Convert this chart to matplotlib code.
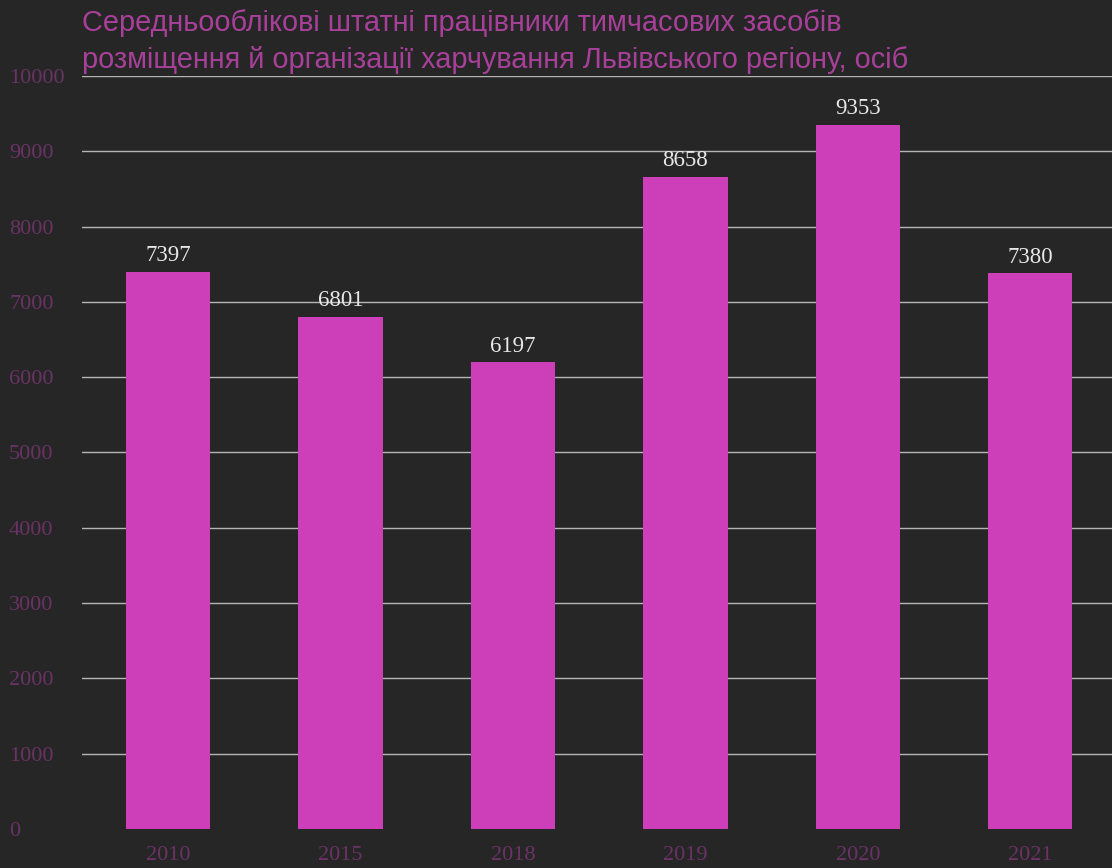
import matplotlib.pyplot as plt
import numpy as np

years = ['2010', '2015', '2018', '2019', '2020', '2021']
workers = [7397, 6801, 6197, 8658, 9353, 7380]
yticks = [0, 1000, 2000, 3000, 4000, 5000, 6000, 7000, 8000, 9000, 10000]
title = ('Середньооблікові штатні працівники тимчасових засобів\n'
         'розміщення й організації харчування Львівського регіону, осіб')

bg = '#262626'
fig = plt.figure(figsize=(11.12, 8.68), dpi=100, facecolor=bg)
ax = fig.add_axes([82 / 1112, 1 - 829 / 868, 1.004 - 82 / 1112, (829 - 76) / 868])
ax.set_facecolor(bg)

x = np.arange(len(years))
ax.bar(x, workers, width=0.49, color='#cd3eb9', zorder=2)

# grid behind the bars
for t in yticks[1:]:
    ax.axhline(t, color='#b5b5b5', lw=1.0, zorder=1)

for xi, v in zip(x, workers):
    ax.text(xi, v + 75, str(v), ha='center', va='bottom', color='#e8e8e8',
            fontsize=16.5, family='Liberation Serif', zorder=4)

ax.set_xlim(-0.5, len(years) - 0.5)
ax.set_ylim(0, 10000)
ax.set_yticks(yticks)
ax.set_xticks(x)
ax.set_xticklabels(years)
ax.tick_params(length=0, colors='#6a3265', labelsize=16)
ax.tick_params(axis='y', pad=52.5)
ax.tick_params(axis='x', pad=12)
for lab in ax.get_yticklabels():
    lab.set_horizontalalignment('left')
for lab in ax.get_xticklabels() + ax.get_yticklabels():
    lab.set_family('Liberation Serif')
for s in ax.spines.values():
    s.set_visible(False)

fig.text(82 / 1112, 1 - 9 / 868, title, ha='left', va='top', color='#a8409a',
         fontsize=20.8, family='Liberation Sans', linespacing=1.42)

fig.savefig('out.png', facecolor=bg)
